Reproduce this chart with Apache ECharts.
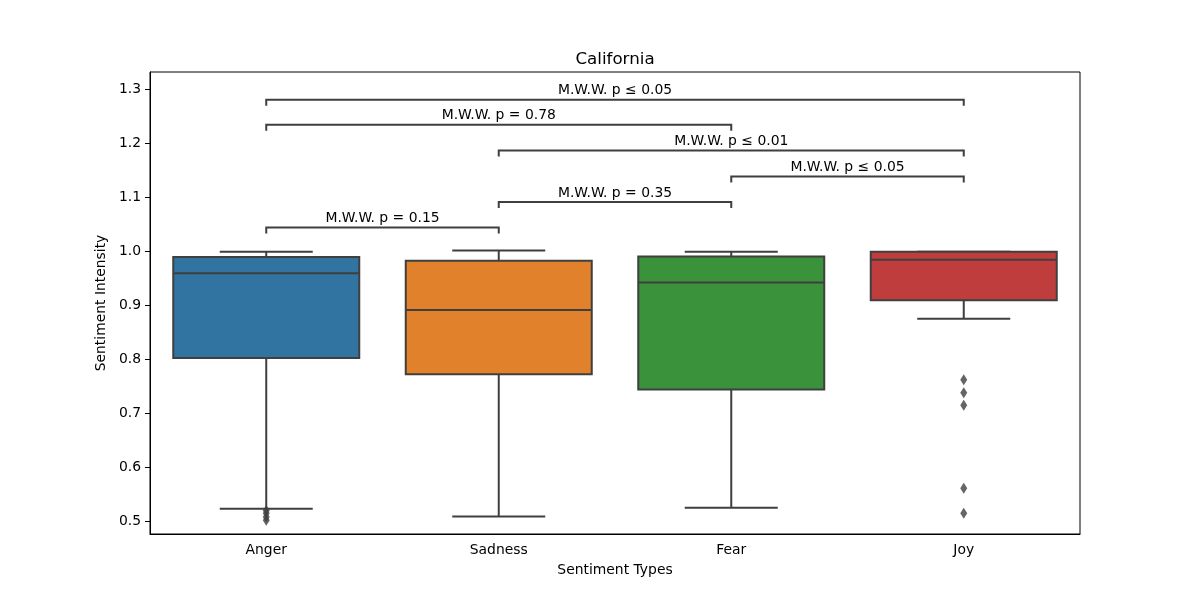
<!DOCTYPE html>
<html><head><meta charset="utf-8">
<script src="https://cdn.jsdelivr.net/npm/echarts@6/dist/echarts.min.js"></script>
<style>html,body{margin:0;padding:0;background:#fff}#c{width:1200px;height:600px}</style>
</head><body><div id="c"></div>
<script>
const categories = ['Anger', 'Sadness', 'Fear', 'Joy'];
const colors = ['#3274a1', '#e1812c', '#3a923a', '#c03d3e'];
const whiskerLow  = [0.523, 0.509, 0.525, 0.875];
const q1          = [0.802, 0.772, 0.744, 0.909];
const median      = [0.959, 0.891, 0.942, 0.984];
const q3          = [0.989, 0.982, 0.990, 0.999];
const whiskerHigh = [0.999, 1.001, 0.999, 0.999];
const outlierCat  = [0, 0, 0, 0, 3, 3, 3, 3, 3];
const outlierVal  = [0.520, 0.515, 0.508, 0.502, 0.762, 0.738, 0.715, 0.561, 0.515];
const yTicks = [0.5, 0.6, 0.7, 0.8, 0.9, 1.0, 1.1, 1.2, 1.3];
const bracketFrom = [0, 0, 1, 2, 1, 0];
const bracketTo   = [3, 2, 3, 3, 2, 1];
const bracketY    = [1.280, 1.234, 1.186, 1.138, 1.091, 1.0435];
const bracketText = ['M.W.W. p ≤ 0.05', 'M.W.W. p = 0.78', 'M.W.W. p ≤ 0.01', 'M.W.W. p ≤ 0.05', 'M.W.W. p = 0.35', 'M.W.W. p = 0.15'];

const FONT = 'DejaVu Sans';
const LINE = '#3f3f3f';
const LW = 2;
const chart = echarts.init(document.getElementById('c'), null, {renderer: 'canvas'});

const boxData = categories.map((c, i) => [i, whiskerLow[i], q1[i], median[i], q3[i], whiskerHigh[i]]);
const outData = outlierCat.map((c, i) => [c, outlierVal[i]]);
const brData = bracketFrom.map((f, i) => [f, bracketTo[i], bracketY[i]]);

function renderBox(params, api) {
  const i = params.dataIndex;
  const cat = api.value(0);
  const band = api.size([1, 0])[0];
  const half = band * 0.4;
  const cap = half / 2;
  const pLow = api.coord([cat, api.value(1)]);
  const pQ1 = api.coord([cat, api.value(2)]);
  const pMed = api.coord([cat, api.value(3)]);
  const pQ3 = api.coord([cat, api.value(4)]);
  const pHigh = api.coord([cat, api.value(5)]);
  const x = pQ1[0];
  const ls = {stroke: LINE, lineWidth: LW};
  return {
    type: 'group',
    children: [
      {type: 'line', shape: {x1: x, y1: pQ3[1], x2: x, y2: pHigh[1]}, style: ls},
      {type: 'line', shape: {x1: x, y1: pQ1[1], x2: x, y2: pLow[1]}, style: ls},
      {type: 'line', shape: {x1: x - cap, y1: pHigh[1], x2: x + cap, y2: pHigh[1]}, style: ls},
      {type: 'line', shape: {x1: x - cap, y1: pLow[1], x2: x + cap, y2: pLow[1]}, style: ls},
      {type: 'rect', shape: {x: x - half, y: pQ3[1], width: 2 * half, height: pQ1[1] - pQ3[1]},
       style: {fill: colors[i], stroke: LINE, lineWidth: LW}},
      {type: 'line', shape: {x1: x - half, y1: pMed[1], x2: x + half, y2: pMed[1]}, style: ls}
    ]
  };
}

chart.setOption({
  animation: false,
  graphic: [{
    type: 'text', x: 615, y: 60,
    style: {text: 'California', fontFamily: FONT, fontSize: 16.7, fill: '#000', align: 'center', verticalAlign: 'middle'}
  }],
  grid: {left: 150, right: 120, top: 72, bottom: 66, show: true, borderColor: '#000', borderWidth: 1, backgroundColor: 'transparent'},
  xAxis: {
    type: 'category', data: categories,
    name: 'Sentiment Types', nameLocation: 'middle', nameGap: 29,
    nameTextStyle: {fontFamily: FONT, fontSize: 13.9, color: '#000'},
    axisLine: {lineStyle: {color: '#000', width: 1}},
    axisTick: {alignWithLabel: true, length: 5, lineStyle: {color: '#000'}},
    axisLabel: {fontFamily: FONT, fontSize: 13.9, color: '#000', margin: 9},
    splitLine: {show: false}
  },
  yAxis: {
    type: 'value', min: 0.4765, max: 1.3315,
    name: 'Sentiment Intensity', nameLocation: 'middle', nameGap: 38, nameRotate: 90,
    nameTextStyle: {fontFamily: FONT, fontSize: 13.9, color: '#000'},
    axisLine: {show: true, lineStyle: {color: '#000', width: 1}},
    axisTick: {show: true, length: 5, lineStyle: {color: '#000'}, customValues: yTicks},
    axisLabel: {fontFamily: FONT, fontSize: 13.9, color: '#000', margin: 9, customValues: yTicks,
      formatter: v => v.toFixed(1)},
    splitLine: {show: false}
  },
  series: [
    {type: 'custom', data: boxData, renderItem: renderBox, z: 3},
    {
      type: 'scatter', data: outData, symbol: 'diamond', symbolSize: [7, 11],
      itemStyle: {color: LINE}, z: 5
    },
    {
      type: 'custom', data: brData, z: 6,
      renderItem: function (params, api) {
        const i = params.dataIndex;
        const p1 = api.coord([api.value(0), api.value(2)]);
        const p2 = api.coord([api.value(1), api.value(2)]);
        const leg = 6;
        return {
          type: 'group',
          children: [
            {type: 'polyline', shape: {points: [[p1[0], p1[1] + leg], [p1[0], p1[1]], [p2[0], p2[1]], [p2[0], p2[1] + leg]]},
             style: {stroke: LINE, lineWidth: LW, fill: null}},
            {type: 'text', x: (p1[0] + p2[0]) / 2, y: p1[1] - 2,
             style: {text: bracketText[i], fontFamily: FONT, fontSize: 13.9, fill: '#000', align: 'center', verticalAlign: 'bottom'}}
          ]
        };
      }
    }
  ]
});
</script></body></html>
